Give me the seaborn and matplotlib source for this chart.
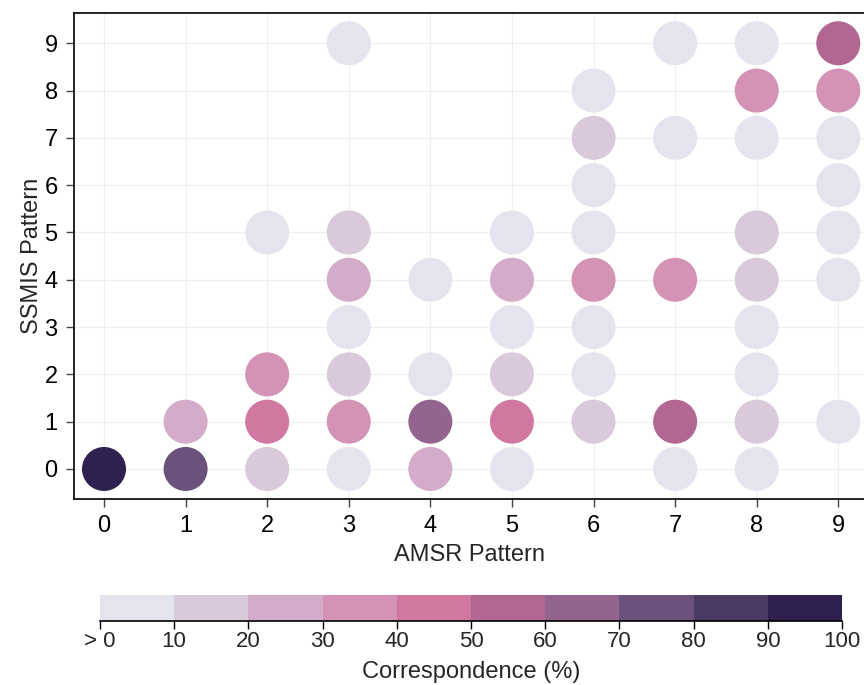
import numpy as np
import pandas as pd
import seaborn as sns
import matplotlib.pyplot as plt
from matplotlib.colors import ListedColormap, BoundaryNorm
from matplotlib.cm import ScalarMappable

# pattern pairs (AMSR, SSMIS) and estimated correspondence in percent
amsr = [0, 1, 1, 2, 2, 2, 2,
        3, 3, 3, 3, 3, 3, 3,
        4, 4, 4, 4,
        5, 5, 5, 5, 5, 5,
        6, 6, 6, 6, 6, 6, 6, 6,
        7, 7, 7, 7, 7,
        8, 8, 8, 8, 8, 8, 8, 8, 8,
        9, 9, 9, 9, 9, 9, 9]
ssmis = [0, 0, 1, 0, 1, 2, 5,
         0, 1, 2, 3, 4, 5, 9,
         0, 1, 2, 4,
         0, 1, 2, 3, 4, 5,
         1, 2, 3, 4, 5, 6, 7, 8,
         0, 1, 4, 7, 9,
         0, 1, 2, 3, 4, 5, 7, 8, 9,
         1, 4, 5, 6, 7, 8, 9]
corr = [95, 75, 25, 15, 45, 35, 5,
        5, 35, 15, 5, 25, 15, 5,
        25, 65, 5, 5,
        5, 45, 15, 5, 25, 5,
        15, 5, 5, 35, 5, 5, 15, 5,
        5, 55, 35, 5, 5,
        5, 15, 5, 5, 15, 15, 5, 35, 5,
        5, 5, 5, 5, 5, 35, 55]

bounds = [0, 10, 20, 30, 40, 50, 60, 70, 80, 90, 100]
bin_colors = ['#e4e4ef', '#dac8db', '#d4abc9', '#d493b5', '#d078a0',
              '#b26791', '#92648e', '#6b527d', '#4a3a64', '#2e2150']
tick_labels = ['> 0', '10', '20', '30', '40', '50', '60', '70', '80', '90', '100']

df = pd.DataFrame({'amsr': amsr, 'ssmis': ssmis, 'corr': corr})
df['bin'] = np.digitize(df['corr'], bounds[1:-1])

sns.set_style('white')
plt.rcParams['font.family'] = ['Liberation Sans', 'DejaVu Sans']
fs = 17

fig = plt.figure(figsize=(8.64, 6.85), dpi=100)
ax = fig.add_axes([0.086, 0.272, 0.914, 0.7086])

ax.set_axisbelow(True)
ax.grid(True, color='#efefef', linewidth=0.8)
sns.scatterplot(data=df, x='amsr', y='ssmis', hue='bin',
                palette=dict(enumerate(bin_colors)), s=1004, linewidth=0,
                legend=False, ax=ax, zorder=3)

ax.set_xlim(-0.364, 9.315)
ax.set_ylim(-0.628, 9.634)
ax.set_xticks(range(10))
ax.set_yticks(range(10))
ax.set_xlabel('AMSR Pattern', fontsize=fs, labelpad=5)
ax.set_ylabel('SSMIS Pattern', fontsize=fs, labelpad=1)
ax.tick_params(labelsize=fs, length=6, width=1, color='#444444', labelcolor='black',
               bottom=True, left=True)
ax.tick_params(axis='x', pad=6)
ax.tick_params(axis='y', pad=6)
for side in ['left', 'top', 'bottom']:
    ax.spines[side].set_color('black')
    ax.spines[side].set_linewidth(1.2)
ax.spines['right'].set_visible(False)

cax = fig.add_axes([0.1157, 0.0934, 0.859, 0.038])
cmap = ListedColormap(bin_colors)
norm = BoundaryNorm(bounds, cmap.N)
cb = fig.colorbar(ScalarMappable(norm=norm, cmap=cmap), cax=cax,
                  orientation='horizontal', ticks=bounds)
cb.outline.set_visible(False)
cax.spines['bottom'].set_visible(True)
cax.spines['bottom'].set_color('black')
cax.spines['bottom'].set_linewidth(1.2)
cb.set_ticklabels(tick_labels)
cax.tick_params(labelsize=16, length=6, width=1, color='black', pad=1)
cb.set_label('Correspondence (%)', fontsize=fs, labelpad=7)

fig.savefig('out.png', dpi=100)
